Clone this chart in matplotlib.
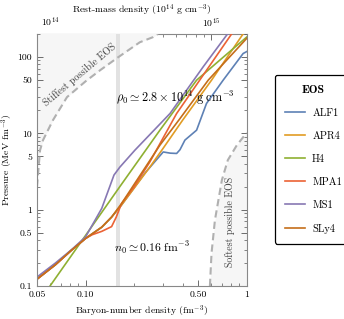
import matplotlib
matplotlib.use("Agg")
import matplotlib.pyplot as plt
from matplotlib.ticker import FixedLocator, FixedFormatter, NullFormatter, LogLocator

plt.rcParams["font.family"] = "serif"
plt.rcParams["font.serif"] = ["cmr10"]
plt.rcParams["mathtext.fontset"] = "cm"
plt.rcParams["axes.formatter.use_mathtext"] = True

# Equations of state: baryon density (fm^-3) vs pressure (MeV fm^-3)
alf1_n = [0.05, 0.065, 0.082, 0.10, 0.126, 0.145, 0.167, 0.233, 0.303, 0.335, 0.367, 0.385, 0.413, 0.488, 0.562, 0.713, 0.948, 1.0]
alf1_p = [0.123, 0.19, 0.296, 0.42, 0.59, 0.80, 1.15, 3.0, 5.7, 5.5, 5.45, 6.1, 8.15, 11.0, 24.6, 49.7, 111, 118]

apr4_n = [0.05, 0.065, 0.082, 0.10, 0.126, 0.145, 0.167, 0.25, 0.30, 0.40, 0.604, 0.947]
apr4_p = [0.123, 0.19, 0.296, 0.42, 0.59, 0.80, 1.15, 3.6, 6.2, 14.9, 49.7, 200]

h4_n = [0.0602, 0.163, 0.289, 0.488, 0.68, 1.0]
h4_p = [0.1, 2.0, 11.0, 49.7, 91, 183]

mpa1_n = [0.05, 0.065, 0.082, 0.10, 0.11, 0.126, 0.145, 0.155, 0.167, 0.20, 0.25, 0.367, 0.51, 0.804]
mpa1_p = [0.123, 0.19, 0.296, 0.42, 0.47, 0.52, 0.60, 0.80, 1.2, 2.0, 4.2, 18.2, 49.7, 200]

ms1_n = [0.05, 0.065, 0.082, 0.10, 0.126, 0.150, 0.163, 0.202, 0.334, 0.536, 0.749, 0.76]
ms1_p = [0.131, 0.20, 0.30, 0.44, 1.04, 2.84, 3.6, 6.0, 18.2, 74.3, 193, 200]

sly4_n = [0.05, 0.065, 0.082, 0.10, 0.126, 0.145, 0.167, 0.289, 0.384, 0.576, 1.0]
sly4_p = [0.123, 0.19, 0.296, 0.42, 0.59, 0.80, 1.2, 7.0, 15.5, 49.7, 176]

eos_names = ["ALF1", "APR4", "H4", "MPA1", "MS1", "SLy4"]
eos_n = [alf1_n, apr4_n, h4_n, mpa1_n, ms1_n, sly4_n]
eos_p = [alf1_p, apr4_p, h4_p, mpa1_p, ms1_p, sly4_p]
eos_colors = ["#5E81B5", "#E19C24", "#8FB032", "#EB6235", "#8778B3", "#C56E1A"]

# causal limits
stiff_n = [0.050, 0.0522, 0.0544, 0.0628, 0.0767, 0.10, 0.123, 0.159, 0.217, 0.262, 0.28]
stiff_p = [2.0, 6.0, 8.1, 14.9, 29.8, 48, 67, 99, 156, 182, 200]
soft_n = [0.590, 0.604, 0.634, 0.700, 0.762, 0.867, 0.972, 1.0]
soft_p = [0.1, 0.27, 0.731, 2.44, 4.46, 7.0, 9.5, 10.1]

n_sat = 0.16
m_b = 1.66e15  # g cm^-3 per fm^-3

fig = plt.figure(figsize=(3.44, 3.19), dpi=100)
ax = fig.add_axes([0.1076, 0.1034, 0.610, 0.790])
ax.set_xscale("log")
ax.set_yscale("log")
ax.set_xlim(0.05, 1)
ax.set_ylim(0.1, 200)

ax.fill_between(stiff_n, stiff_p, 1000, color="#f6f6f6", lw=0)
ax.fill_between(soft_n, 0.01, soft_p, color="#f6f6f6", lw=0)
ax.plot(stiff_n, stiff_p, color="#b0b0b0", lw=1.5, dashes=(3.5, 2))
ax.plot(soft_n, soft_p, color="#b0b0b0", lw=1.5, dashes=(3.5, 2))
ax.axvspan(n_sat * 0.972, n_sat * 1.029, color="#e2e2e2", lw=0)

for name, n, p, c in zip(eos_names, eos_n, eos_p, eos_colors):
    ax.plot(n, p, color=c, lw=1.2, label=name)

ax.text(0.362, 29, r"$\rho_0 \simeq 2.8\times10^{14}\ \mathrm{g\ cm^{-3}}$", fontsize=8.8, ha="center", va="center")
ax.text(0.257, 0.314, r"$n_0 \simeq 0.16\ \mathrm{fm^{-3}}$", fontsize=8.5, ha="center", va="center")
ax.text(0.0925, 58, "Stiffest possible EOS", fontsize=7.2, color="#444444", rotation=40, ha="center", va="center")
ax.text(0.783, 0.69, "Softest possible EOS", fontsize=7.2, color="#444444", rotation=90, ha="center", va="center")

ax.xaxis.set_major_locator(FixedLocator([0.05, 0.1, 0.5, 1]))
ax.xaxis.set_major_formatter(FixedFormatter(["0.05", "0.10", "0.50", "1"]))
ax.xaxis.set_minor_locator(FixedLocator([0.06, 0.07, 0.08, 0.09, 0.2, 0.3, 0.4, 0.6, 0.7, 0.8, 0.9]))
ax.xaxis.set_minor_formatter(NullFormatter())
ax.yaxis.set_major_locator(FixedLocator([0.1, 0.5, 1, 5, 10, 50, 100]))
ax.yaxis.set_major_formatter(FixedFormatter(["0.1", "0.5", "1", "5", "10", "50", "100"]))
ax.yaxis.set_minor_locator(LogLocator(base=10, subs=(2, 3, 4, 6, 7, 8, 9)))
ax.yaxis.set_minor_formatter(NullFormatter())

ax.tick_params(which="both", direction="in", colors="#555555", labelcolor="black", labelsize=7, right=True)
ax.tick_params(which="major", length=4, width=0.6)
ax.tick_params(which="minor", length=2, width=0.5)
for s in ax.spines.values():
    s.set_color("#888888")
    s.set_linewidth(0.8)
ax.spines["top"].set_visible(False)

sec = ax.secondary_xaxis("top", functions=(lambda n: n * m_b, lambda r: r / m_b))
sec.xaxis.set_major_locator(FixedLocator([1e14, 1e15]))
sec.xaxis.set_minor_locator(FixedLocator([2e14, 3e14, 4e14, 5e14, 6e14, 7e14, 8e14, 9e14]))
sec.xaxis.set_minor_formatter(NullFormatter())
sec.tick_params(which="both", direction="in", colors="#555555", labelcolor="black", labelsize=7)
sec.tick_params(which="major", length=4, width=0.6)
sec.tick_params(which="minor", length=2, width=0.5)
sec.spines["top"].set_color("#888888")
sec.spines["top"].set_linewidth(0.8)
sec.set_xlabel(r"Rest-mass density ($10^{14}$ g cm$^{-3}$)", fontsize=7, labelpad=2)

ax.set_xlabel(r"Baryon-number density (fm$^{-3}$)", fontsize=7, labelpad=3)
ax.set_ylabel(r"Pressure (MeV fm$^{-3}$)", fontsize=7, labelpad=2)

leg = ax.legend(loc="upper left", bbox_to_anchor=(0.80, 0.765), bbox_transform=fig.transFigure,
                title="EOS", fontsize=7.5, title_fontproperties={"family": "cmb10", "size": 8.5},
                frameon=True, fancybox=True, edgecolor="black", labelspacing=1.3,
                handlelength=1.9, handletextpad=0.7, borderpad=0.95, borderaxespad=0)
leg.get_frame().set_linewidth(0.9)
leg.get_frame().set_alpha(1)

fig.savefig("out.png", dpi=100)
